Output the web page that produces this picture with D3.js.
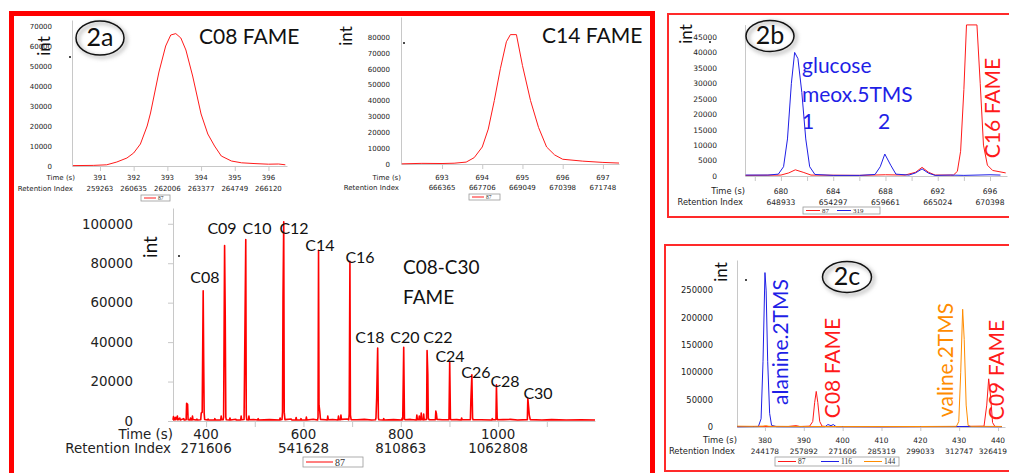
<!DOCTYPE html>
<html lang="en">
<head>
<meta charset="UTF-8">
<title>FAME chromatograms</title>
<script src="https://d3js.org/d3.v7.min.js"></script>
<style>
  body { margin: 0; background: #fff; }
  svg { display: block; }
</style>
</head>
<body>
<script>
  // ---- data: [time (s), intensity] ----
  var c08Trace87 = [[390.2,200],[390.8,300],[391.2,600],[391.5,2000],[391.8,4000],[392.0,6500],[392.2,11000],[392.4,20000],[392.5,26500],[392.75,47000],[392.95,60000],[393.1,65500],[393.25,66200],[393.4,64000],[393.55,58000],[393.75,45000],[394.0,26000],[394.2,16000],[394.4,10000],[394.6,5000],[394.9,2500],[395.2,1600],[395.6,1200],[396.0,900],[396.3,1000],[396.5,600]];
  var c14Trace87 = [[692,100],[692.5,400],[693,300],[693.3,500],[693.6,1200],[693.8,4000],[694,10700],[694.15,22000],[694.3,40000],[694.45,60000],[694.6,77000],[694.7,81500],[694.85,81500],[695,62000],[695.2,40000],[695.4,23000],[695.6,10700],[695.8,5700],[696,3000],[696.5,1800],[697,1000],[697.4,600]];

  var fameTrace87 = [[332,600],[333,2200],[334,500],[337,1800],[338,600],[341,2500],[342,500],[346,1500],[347,500],[354,1200],[355,500],[359,600],[360,9000],[362,8500],[363,700],[367,500],[368,1500],[369,600],[371,500],[372,2500],[373,800],[380,500],[381,1000],[382,500],[389,600],[390,4000],[392,4500],[394,66000],[395,32000],[396,4000],[397,800],[403,500],[404,1000],[405,500],[417,500],[418,1200],[419,500],[430,500],[431,2500],[432,700],[435,600],[436,2000],[438,89000],[439.3,54000],[440.5,2000],[441.5,600],[448,500],[449,1500],[450,500],[461,900],[462,500],[471,500],[472,2500],[473,600],[478,800],[479,25000],[481.5,92000],[482.5,3000],[483.5,600],[487,500],[488,2500],[489,600],[497,800],[506,500],[507,1200],[508,500],[530,700],[551,500],[552,1500],[553,600],[556,800],[557,4500],[558,62000],[559.5,101000],[560.5,4500],[562,700],[575,1000],[576,500],[584,500],[585,1800],[586,500],[594,500],[595,1200],[596,500],[605,500],[606,2000],[607,500],[620,900],[629,500],[630,2000],[631,86500],[632,8000],[633.5,5000],[635,800],[645,600],[649,500],[650,2500],[651,600],[660,800],[671,500],[672,2500],[673,700],[676,600],[677,3000],[678,800],[690,1000],[693,600],[694,3500],[695.5,81000],[696.5,3000],[698,700],[710,600],[725,800],[740,500],[748,600],[749,1500],[750.5,12000],[752.5,37000],[754,1500],[755,600],[764,500],[765,1200],[766,500],[785,700],[802,500],[803,1500],[804,700],[806,37400],[807.5,1200],[808.5,600],[820,800],[832,500],[833,3000],[834,700],[837,600],[838,2500],[839,700],[841,600],[842,4000],[843,800],[846,600],[847,3500],[848,700],[853,800],[854,35700],[855.5,24000],[856.5,1500],[858,700],[871,600],[872,5000],[873,4000],[874.5,800],[885,600],[899,600],[900.5,30100],[902,1200],[903,600],[915,700],[924,500],[925,1500],[926,600],[943,700],[944,10700],[946,23400],[947.5,1500],[948.5,600],[965,600],[987,500],[988,1200],[989,600],[995.5,700],[996.5,18300],[998,1500],[999,600],[1010,700],[1025,800],[1040,500],[1060,700],[1061,11500],[1062.5,7300],[1064,3000],[1066,700],[1090,500],[1110,700],[1140,500],[1170,600],[1199,500]];

  var glcTrace87 = [[677.3,200],[680,300],[680.6,1000],[681.1,2000],[681.7,1200],[682.3,300],[686,200],[688,400],[689.5,300],[690.3,1200],[690.8,2800],[691.3,1200],[691.8,300],[693.2,300],[693.5,1500],[693.75,8000],[694.0,28000],[694.2,48900],[695.0,48900],[695.25,30000],[695.5,10000],[695.8,3500],[696.2,1800],[697.2,1000]];
  var glcTrace319 = [[677.3,300],[679,300],[679.8,600],[680.2,3000],[680.5,12000],[680.8,30000],[681.05,40000],[681.3,38000],[681.6,27000],[681.9,12000],[682.2,3000],[682.6,500],[684,200],[686,200],[687.2,500],[687.6,3000],[687.95,7100],[688.4,3500],[688.8,600],[689.8,300],[690.3,1000],[690.8,2300],[691.3,900],[691.8,200],[693,300],[694,200],[696,400],[696.8,300]];

  var aaTrace87 = [[372.8,800],[380,1000],[386,900],[388,2500],[389,800],[391.5,1500],[392.3,10000],[392.8,45000],[393.2,65000],[393.6,45000],[394.1,10000],[394.7,1500],[396,800],[410,600],[430,800],[436.4,1500],[437.1,40000],[437.6,88000],[438.1,55000],[438.6,8000],[439.2,1000],[441,800]];
  var aaTrace116 = [[372.8,500],[378.3,800],[379.0,15000],[379.5,120000],[380.0,282000],[380.3,250000],[380.7,120000],[381.2,25000],[381.7,3000],[383,600],[390,400],[395.5,600],[396.2,4500],[397,2500],[397.6,4500],[398.3,600],[410,500],[420,800],[430,900],[441,500]];
  var aaTrace144 = [[372.8,1500],[377,1200],[379.5,1500],[380.2,2500],[381,1200],[390,1000],[400,800],[420,900],[429.3,1200],[429.9,10000],[430.4,100000],[430.9,215000],[431.3,160000],[431.8,40000],[432.3,3000],[433,1200],[441,1000]];

  // ---- tick labels ----
  var c08TimeTicks = [391, 392, 393, 394, 395, 396];
  var c08RiTicks = ["259263", "260635", "262006", "263377", "264749", "266120"];
  var c08YTicks = [0, 10000, 20000, 30000, 40000, 50000, 60000, 70000];
  var c14TimeTicks = [693, 694, 695, 696, 697];
  var c14RiTicks = ["666365", "667706", "669049", "670398", "671748"];
  var c14YTicks = [0, 10000, 20000, 30000, 40000, 50000, 60000, 70000, 80000];
  var fameTimeTicks = [400, 600, 800, 1000];
  var fameRiTicks = ["271606", "541628", "810863", "1062808"];
  var fameMinorTicks = [400, 500, 600, 700, 800, 900, 1000, 1100];
  var fameYTicks = [0, 20000, 40000, 60000, 80000, 100000];
  var glcTimeTicks = [680, 684, 688, 692, 696];
  var glcRiTicks = ["648933", "654297", "659661", "665024", "670398"];
  var glcMinorTicks = [678, 680, 682, 684, 686, 688, 690, 692, 694, 696];
  var glcYTicks = [0, 5000, 10000, 15000, 20000, 25000, 30000, 35000, 40000, 45000];
  var aaTimeTicks = [380, 390, 400, 410, 420, 430, 440];
  var aaRiTicks = ["244178", "257892", "271606", "285319", "299033", "312747", "326419"];
  var aaYTicks = [0, 50000, 100000, 150000, 200000, 250000];

  // peak labels of the FAME ladder, anchored in data units [time, intensity]
  var famePeakNames = ["C08", "C09", "C10", "C12", "C14", "C16", "C18", "C20", "C22", "C24", "C26", "C28", "C30"];
  var famePeakAnchors = [[397.7,70000],[432.7,94800],[504.6,94800],[580.6,94800],[634,86200],[716.2,80100],[736.7,39500],[808.6,39500],[876.4,39500],[901.1,29900],[954.5,21800],[1014.1,17200],[1081.9,11200]];

  var RED = "#ff1a1a", BLUE = "#1f1fe6", ORANGE = "#ff8c00";
  var TXT = "Lato, 'Open Sans', sans-serif";
  var TICK = "'DejaVu Sans', sans-serif";

  var svg = d3.select("body").append("svg").attr("width", 1009).attr("height", 473);

  var defs = svg.append("defs");
  defs.append("filter").attr("id", "shadow").attr("x", "-30%").attr("y", "-30%").attr("width", "160%").attr("height", "160%")
    .append("feGaussianBlur").attr("stdDeviation", 2);

  // panel frames
  svg.append("rect").attr("x", 11.5).attr("y", 13.5).attr("width", 641).attr("height", 480)
    .attr("fill", "none").attr("stroke", "#ff0000").attr("stroke-width", 5);
  svg.append("rect").attr("x", 668).attr("y", 14).attr("width", 360).attr("height", 203)
    .attr("fill", "none").attr("stroke", "#ff2a2a").attr("stroke-width", 2);
  svg.append("rect").attr("x", 665).attr("y", 245).attr("width", 360).attr("height", 226)
    .attr("fill", "none").attr("stroke", "#ff2a2a").attr("stroke-width", 2);

  function chart(c) {
    var g = svg.append("g");
    var x = d3.scaleLinear().domain(c.xDomain).range(c.xRange);
    var y = d3.scaleLinear().domain(c.yDomain).range(c.yRange);
    var y0 = y(0);

    // x axis with tick marks only
    var xa = g.append("g").attr("transform", "translate(0," + y0 + ")")
      .call(d3.axisBottom(x).tickValues(c.minorTicks || c.timeTicks).tickSizeInner(c.xTickLen).tickSizeOuter(0).tickFormat(""));
    xa.selectAll("path, line").attr("stroke", "#c8c8c8");

    // y axis
    var ya = g.append("g").attr("transform", "translate(" + c.xRange[0] + ",0)")
      .call(d3.axisLeft(y).tickValues(c.yTicks).tickSizeInner(c.yTickLen).tickSizeOuter(0).tickPadding(c.yPad).tickFormat(d3.format("d")));
    ya.selectAll("path, line").attr("stroke", "#c8c8c8");
    ya.selectAll("text").attr("font-family", TICK).attr("font-size", c.yFont).attr("fill", "#222");

    // time and retention index rows
    g.selectAll(".tt").data(c.timeTicks).enter().append("text")
      .attr("x", function(d) { return x(d); }).attr("y", y0 + c.row1)
      .attr("text-anchor", "middle").attr("font-family", TICK).attr("font-size", c.xFont).attr("fill", "#222")
      .text(function(d) { return d; });
    g.selectAll(".ri").data(c.riTicks).enter().append("text")
      .attr("x", function(d, i) { return x(c.timeTicks[i]); }).attr("y", y0 + c.row2)
      .attr("text-anchor", "middle").attr("font-family", TICK).attr("font-size", c.xFont).attr("fill", "#222")
      .text(function(d) { return d; })
      .each(function() {
        // keep the last label inside the panel, as the original does
        if (!c.riMaxX) return;
        var t = d3.select(this), w = this.getComputedTextLength(), cx = +t.attr("x");
        if (cx + w / 2 > c.riMaxX) t.attr("x", c.riMaxX - w / 2);
      });
    g.append("text").attr("x", c.titleRight).attr("y", y0 + c.row1).attr("text-anchor", "end")
      .attr("font-family", TICK).attr("font-size", c.titleFont).attr("fill", "#222").text("Time (s)");
    g.append("text").attr("x", c.titleRight - 2).attr("y", y0 + c.row2).attr("text-anchor", "end")
      .attr("font-family", TICK).attr("font-size", c.titleFont).attr("fill", "#222").text("Retention Index");

    // traces
    var line = d3.line().x(function(d) { return x(d[0]); }).y(function(d) { return y(d[1]); });
    c.series.forEach(function(s) {
      g.append("path").datum(s.data).attr("d", line).attr("fill", "none")
        .attr("stroke", s.color).attr("stroke-width", c.lineWidth).attr("stroke-linejoin", "round");
    });

    // legend box
    var L = c.legend;
    g.append("rect").attr("x", L.x).attr("y", L.y).attr("width", L.w).attr("height", L.h)
      .attr("fill", "#fff").attr("stroke", "#9a9a9a").attr("stroke-width", 0.8);
    c.series.forEach(function(s, i) {
      var lx = L.x + 3 + i * L.step;
      g.append("line").attr("x1", lx).attr("x2", lx + L.lineLen).attr("y1", L.y + L.h / 2).attr("y2", L.y + L.h / 2)
        .attr("stroke", s.color).attr("stroke-width", 1);
      g.append("text").attr("x", lx + L.lineLen + 2).attr("y", L.y + L.h / 2).attr("dy", "0.35em")
        .attr("font-family", "'Liberation Serif', serif").attr("font-size", L.font).attr("fill", "#333").text(s.name);
    });

    // "int" label and stray dot
    g.append("text").attr("transform", "translate(" + c.intPos[0] + "," + c.intPos[1] + ") rotate(-90)")
      .attr("text-anchor", "middle").attr("font-family", TXT).attr("font-size", c.intFont).attr("fill", "#111").text("int");
    g.append("circle").attr("cx", c.dot[0]).attr("cy", c.dot[1]).attr("r", 1).attr("fill", "#111");
    return { g: g, x: x, y: y };
  }

  function badge(cx, cy, rx, ry, label) {
    svg.append("ellipse").attr("cx", cx + 2).attr("cy", cy + 2).attr("rx", rx).attr("ry", ry)
      .attr("fill", "none").attr("stroke", "#999").attr("stroke-width", 2).attr("filter", "url(#shadow)");
    svg.append("ellipse").attr("cx", cx).attr("cy", cy).attr("rx", rx).attr("ry", ry)
      .attr("fill", "none").attr("stroke", "#111").attr("stroke-width", 1.5);
    svg.append("text").attr("x", cx).attr("y", cy + 8).attr("text-anchor", "middle")
      .attr("font-family", TXT).attr("font-size", 25).attr("fill", "#111").text(label);
  }

  function vText(x, y, txt, color, size) {
    svg.append("text").attr("transform", "translate(" + x + "," + y + ") rotate(-90)")
      .attr("text-anchor", "middle").attr("font-family", TXT).attr("font-size", size).attr("fill", color).text(txt);
  }

  // ---- 2a: C08 zoom ----
  chart({
    xDomain: [390.17, 396.55], xRange: [72, 287], yDomain: [0, 73000], yRange: [166, 20],
    yTicks: c08YTicks, yTickLen: 0, yPad: 20, yFont: 7,
    timeTicks: c08TimeTicks, riTicks: c08RiTicks, xTickLen: 5, xFont: 7, titleFont: 7, titleRight: 75, row1: 14, row2: 25,
    series: [{ name: "87", color: RED, data: c08Trace87 }], lineWidth: 1,
    legend: { x: 141, y: 195, w: 29, h: 6, step: 0, lineLen: 12, font: 5.5 },
    intPos: [50, 46], intFont: 17, dot: [70, 57]
  });
  svg.append("text").attr("x", 199).attr("y", 44).attr("font-family", TXT).attr("font-size", 21).attr("fill", "#111").text("C08 FAME");

  // ---- 2a: C14 zoom ----
  chart({
    xDomain: [691.98, 697.4], xRange: [401, 619], yDomain: [0, 92600], yRange: [164, 17],
    yTicks: c14YTicks, yTickLen: 0, yPad: 11, yFont: 7,
    timeTicks: c14TimeTicks, riTicks: c14RiTicks, xTickLen: 5, xFont: 7, titleFont: 7, titleRight: 401, row1: 16, row2: 26,
    series: [{ name: "87", color: RED, data: c14Trace87 }], lineWidth: 1,
    legend: { x: 469, y: 194, w: 31, h: 6, step: 0, lineLen: 12, font: 5.5 },
    intPos: [352, 36], intFont: 17, dot: [404, 43]
  });
  svg.append("text").attr("x", 542).attr("y", 43).attr("font-family", TXT).attr("font-size", 21).attr("fill", "#111").text("C14 FAME");

  // ---- 2a: full FAME ladder ----
  var fame = chart({
    xDomain: [332, 1199], xRange: [173, 595], yDomain: [0, 108000], yRange: [421, 208],
    yTicks: fameYTicks, yTickLen: 5, yPad: 35, yFont: 13.4,
    timeTicks: fameTimeTicks, riTicks: fameRiTicks, minorTicks: fameMinorTicks, xTickLen: 6, xFont: 13.4, titleFont: 13.4, titleRight: 173, row1: 18, row2: 32,
    series: [{ name: "87", color: "#ff0000", data: fameTrace87 }], lineWidth: 1.6,
    legend: { x: 303, y: 457, w: 60, h: 10, step: 0, lineLen: 27, font: 10 },
    intPos: [157, 247], intFont: 19, dot: [179, 256]
  });
  fame.g.selectAll(".pk").data(famePeakNames).enter().append("text")
    .attr("x", function(d, i) { return fame.x(famePeakAnchors[i][0]); })
    .attr("y", function(d, i) { return fame.y(famePeakAnchors[i][1]); })
    .attr("text-anchor", "middle").attr("font-family", TXT).attr("font-size", 16).attr("fill", "#111")
    .text(function(d) { return d; });
  svg.append("text").attr("x", 403).attr("y", 274).attr("font-family", TXT).attr("font-size", 19).attr("fill", "#111").text("C08-C30");
  svg.append("text").attr("x", 403).attr("y", 304).attr("font-family", TXT).attr("font-size", 19).attr("fill", "#111").text("FAME");
  badge(100, 38, 24, 17, "2a");

  // ---- 2b: glucose ----
  chart({
    xDomain: [677.25, 697.3], xRange: [745, 1007], yDomain: [0, 49000], yRange: [176, 24.6],
    yTicks: glcYTicks, yTickLen: 0, yPad: 28, yFont: 7.5,
    timeTicks: glcTimeTicks, riTicks: glcRiTicks, minorTicks: glcMinorTicks, xTickLen: 5, xFont: 7.6, titleFont: 8.3, titleRight: 745, row1: 18, row2: 29,
    riMaxX: 1007,
    series: [{ name: "87", color: RED, data: glcTrace87 }, { name: "319", color: BLUE, data: glcTrace319 }], lineWidth: 1,
    legend: { x: 803, y: 207, w: 77, h: 7, step: 31, lineLen: 14, font: 7 },
    intPos: [692, 34], intFont: 17, dot: [710, 42]
  });
  svg.append("text").attr("x", 802).attr("y", 73).attr("font-family", TXT).attr("font-size", 21).attr("fill", BLUE).text("glucose");
  svg.append("text").attr("x", 802).attr("y", 102).attr("font-family", TXT).attr("font-size", 21).attr("fill", BLUE).text("meox.5TMS");
  svg.append("text").attr("x", 802).attr("y", 129).attr("font-family", TXT).attr("font-size", 21).attr("fill", BLUE).text("1");
  svg.append("text").attr("x", 878).attr("y", 129).attr("font-family", TXT).attr("font-size", 21).attr("fill", BLUE).text("2");
  vText(1000, 108, "C16 FAME", RED, 21);
  badge(770, 36, 24, 15.5, "2b");

  // ---- 2c: amino acids ----
  chart({
    xDomain: [372.8, 441.8], xRange: [737, 1005], yDomain: [0, 305000], yRange: [427, 260],
    yTicks: aaYTicks, yTickLen: 0, yPad: 24, yFont: 8.4,
    timeTicks: aaTimeTicks, riTicks: aaRiTicks, xTickLen: 4, xFont: 7.4, titleFont: 8.4, titleRight: 737, row1: 16, row2: 27,
    riMaxX: 1007,
    series: [{ name: "87", color: RED, data: aaTrace87 }, { name: "116", color: BLUE, data: aaTrace116 }, { name: "144", color: ORANGE, data: aaTrace144 }], lineWidth: 1,
    legend: { x: 775, y: 457, w: 124, h: 9, step: 43, lineLen: 18, font: 7.5 },
    intPos: [727, 272], intFont: 17, dot: [746, 280]
  });
  vText(788, 342, "alanine.2TMS", BLUE, 21);
  vText(840, 368, "C08 FAME", RED, 21);
  vText(953, 360, "valine.2TMS", ORANGE, 21);
  vText(1004, 370, "C09 FAME", RED, 21);
  badge(847, 277, 24.5, 15.5, "2c");
</script>
</body>
</html>
